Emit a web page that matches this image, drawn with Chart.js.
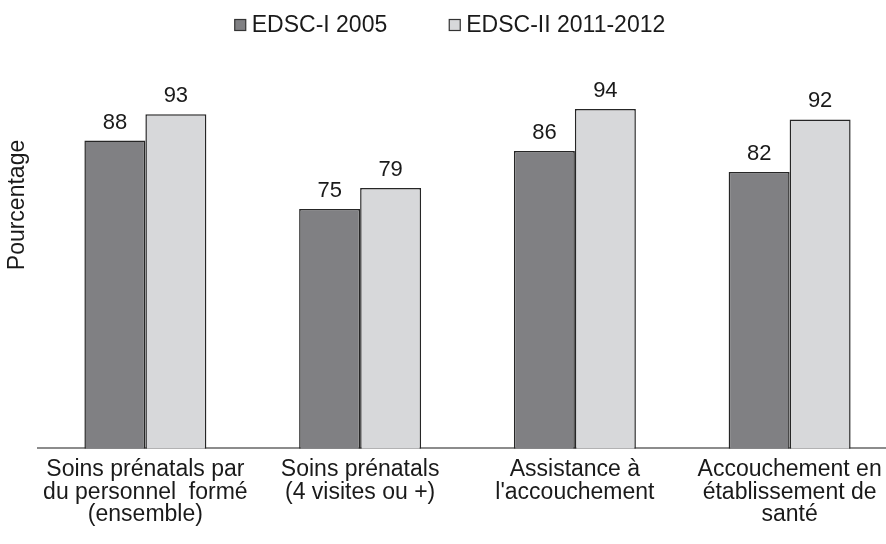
<!DOCTYPE html>
<html>
<head>
<meta charset="utf-8">
<script src="https://cdn.jsdelivr.net/npm/chart.js@4"></script>
<style>
    body { margin: 0; background: #fff; overflow: hidden; }
    canvas { display: block; }
</style>
</head>
<body>
<canvas id="chart" width="900" height="544"></canvas>
<script>
const categories = [
    ['Soins prénatals par', 'du personnel  formé', '(ensemble)'],
    ['Soins prénatals', '(4 visites ou +)'],
    ['Assistance à', "l'accouchement"],
    ['Accouchement en', 'établissement de', 'santé']
];
const seriesNames = ['EDSC-I 2005', 'EDSC-II 2011-2012'];
const edsc1 = [88, 75, 86, 82];
const edsc2 = [93, 79, 94, 92];
const seriesColors = ['#808083', '#d7d8da'];

const textColor = '#1a1a1a';
const fontFamily = '"Liberation Sans", Arial, sans-serif';

// value labels above each bar
const valueLabels = {
    id: 'valueLabels',
    afterDatasetsDraw(chart) {
        const ctx = chart.ctx;
        ctx.save();
        ctx.font = `22px ${fontFamily}`;
        ctx.fillStyle = textColor;
        ctx.textAlign = 'center';
        ctx.textBaseline = 'alphabetic';
        chart.data.datasets.forEach((ds, i) => {
            chart.getDatasetMeta(i).data.forEach((bar, j) => {
                ctx.fillText(ds.data[j], bar.x, bar.y - 12);
            });
        });
        ctx.restore();
    }
};

// legend + y title drawn by hand so spacing matches
const extras = {
    id: 'extras',
    afterDraw(chart) {
        const ctx = chart.ctx;
        ctx.save();
        ctx.font = `23px ${fontFamily}`;
        ctx.fillStyle = textColor;
        ctx.textBaseline = 'middle';

        const box = 11, gapText = 6, gapItem = 62;
        const widths = chart.data.datasets.map(ds => box + gapText + ctx.measureText(ds.label).width);
        const total = widths.reduce((a, b) => a + b, 0) + gapItem * (widths.length - 1);
        let x = chart.width / 2 - total / 2;
        const y = 25;
        chart.data.datasets.forEach((ds, i) => {
            ctx.fillStyle = ds.backgroundColor;
            ctx.fillRect(x, y - box / 2, box, box);
            ctx.strokeStyle = '#333';
            ctx.lineWidth = 1.2;
            ctx.strokeRect(x, y - box / 2, box, box);
            ctx.fillStyle = textColor;
            ctx.textAlign = 'left';
            ctx.fillText(ds.label, x + box + gapText, y + 1);
            x += widths[i] + gapItem;
        });

        ctx.translate(18, 205);
        ctx.rotate(-Math.PI / 2);
        ctx.textAlign = 'center';
        ctx.fillText('Pourcentage', 0, 0);
        ctx.restore();
    }
};

new Chart(document.getElementById('chart'), {
    type: 'bar',
    data: {
        labels: categories,
        datasets: [{
            label: seriesNames[0],
            data: edsc1,
            backgroundColor: seriesColors[0],
            borderColor: '#262626',
            borderWidth: 1.5
        }, {
            label: seriesNames[1],
            data: edsc2,
            backgroundColor: seriesColors[1],
            borderColor: '#262626',
            borderWidth: 1.5
        }]
    },
    options: {
        responsive: false,
        animation: false,
        devicePixelRatio: 1,
        layout: { padding: { top: 80, left: 38, right: 3, bottom: 16 } },
        datasets: { bar: { barPercentage: 1, categoryPercentage: 0.568 } },
        plugins: {
            legend: { display: false },
            tooltip: { enabled: false }
        },
        scales: {
            x: {
                grid: { display: false },
                border: { display: true, color: '#8c8c8c', width: 2 },
                ticks: {
                    color: textColor,
                    font: { family: fontFamily, size: 23, lineHeight: 0.98 },
                    padding: 2,
                    maxRotation: 0,
                    autoSkip: false
                }
            },
            y: {
                display: false,
                min: 29.5,
                max: 99.5
            }
        }
    },
    plugins: [valueLabels, extras]
});
</script>
</body>
</html>
